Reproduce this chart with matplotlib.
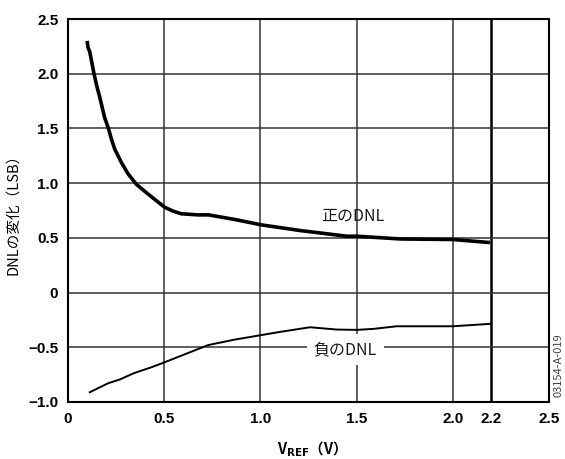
import matplotlib
matplotlib.use("Agg")
import matplotlib.pyplot as plt

plt.rcParams['font.family'] = ['Noto Sans CJK JP', 'DejaVu Sans']

# 正のDNL
pos_x = [0.099, 0.104, 0.113, 0.135, 0.151, 0.165, 0.19, 0.21, 0.225, 0.243, 0.277, 0.312,
         0.355, 0.416, 0.459, 0.502, 0.545, 0.589, 0.676, 0.73, 0.86, 0.946, 1.0, 1.206,
         1.449, 1.50, 1.726, 2.0, 2.193]
pos_y = [2.30, 2.24, 2.20, 2.0, 1.877, 1.785, 1.60, 1.50, 1.405, 1.31, 1.19, 1.085,
         0.99, 0.90, 0.84, 0.78, 0.745, 0.72, 0.71, 0.71, 0.67, 0.64, 0.62, 0.567,
         0.515, 0.515, 0.49, 0.485, 0.457]

# 負のDNL
neg_x = [0.113, 0.208, 0.268, 0.346, 0.433, 0.502, 0.728, 0.866, 1.0, 1.10, 1.258,
         1.397, 1.50, 1.587, 1.708, 2.0, 2.193]
neg_y = [-0.911, -0.829, -0.795, -0.734, -0.683, -0.637, -0.48, -0.43, -0.39, -0.36, -0.317,
         -0.338, -0.341, -0.332, -0.308, -0.308, -0.286]

xticks = [0, 0.5, 1.0, 1.5, 2.0, 2.2, 2.5]
xtick_labels = ["0", "0.5", "1.0", "1.5", "2.0", "2.2", "2.5"]
yticks = [-1.0, -0.5, 0, 0.5, 1.0, 1.5, 2.0, 2.5]
ytick_labels = ["\u22121.0", "\u22120.5", "0", "0.5", "1.0", "1.5", "2.0", "2.5"]

fig = plt.figure(figsize=(5.65, 4.59), dpi=100)
ax = fig.add_axes([0.1204, 0.1242, 0.8513, 0.8344])

ax.set_xlim(0, 2.5)
ax.set_ylim(-1.0, 2.5)

grid_col = "#333333"
for x in [0.5, 1.0, 1.5, 2.0]:
    ax.axvline(x, color=grid_col, linewidth=1.1, zorder=1)
ax.axvline(2.2, color="black", linewidth=1.8, zorder=1)
for y in [-0.5, 0, 0.5, 1.0, 1.5, 2.0]:
    ax.axhline(y, color=grid_col, linewidth=1.1, zorder=1)

ax.plot(pos_x, pos_y, color="black", linewidth=2.6, solid_capstyle="butt",
        solid_joinstyle="round", zorder=3)
ax.plot(neg_x, neg_y, color="black", linewidth=1.4, solid_joinstyle="round", zorder=3)

ax.text(1.48, 0.70, "正のDNL", fontsize=11.5, ha="center", va="center", color="#1a1a1a", zorder=4)
ax.text(1.44, -0.52, "負のDNL", fontsize=11.5, ha="center", va="center", color="#1a1a1a", zorder=4,
        bbox=dict(facecolor="white", edgecolor="none", pad=5))

ax.set_xticks(xticks)
ax.set_xticklabels(xtick_labels, fontweight="bold", fontsize=11, family=['Liberation Sans', 'DejaVu Sans'])
ax.set_yticks(yticks)
ax.set_yticklabels(ytick_labels, fontweight="bold", fontsize=11, family=['Liberation Sans', 'DejaVu Sans'])
ax.tick_params(length=0, pad=7)

for s in ax.spines.values():
    s.set_linewidth(1.5)
    s.set_zorder(5)

ax.set_xlabel(r"V$_{\mathbf{REF}}$（V）", fontsize=10.5, fontweight="bold", labelpad=10)
ax.set_ylabel("DNLの変化（LSB）", fontsize=10.5, labelpad=6)

fig.text(0.988, 0.205, "03154-A-019", rotation=90, fontsize=8, color="#444444",
         ha="center", va="center")

fig.savefig("out.png", dpi=100)
